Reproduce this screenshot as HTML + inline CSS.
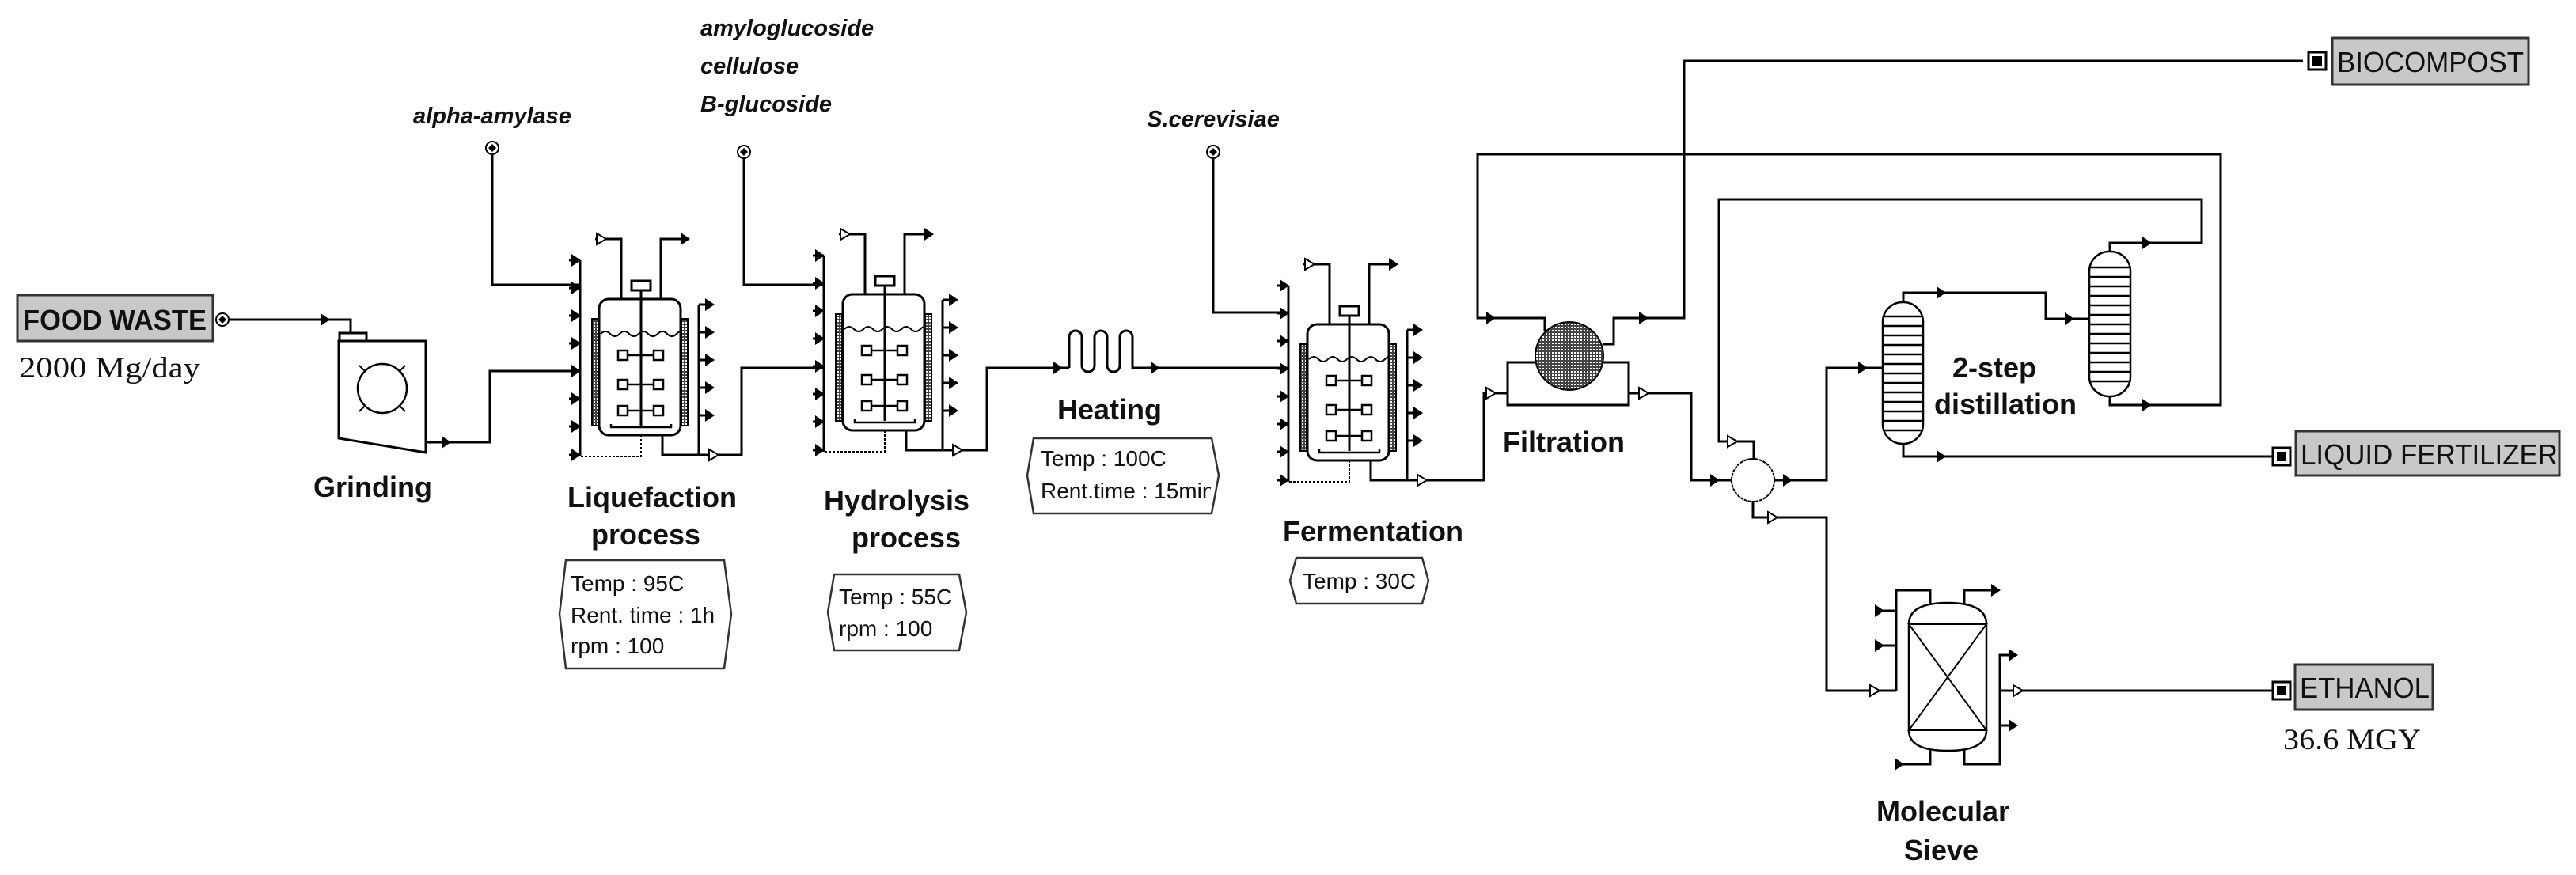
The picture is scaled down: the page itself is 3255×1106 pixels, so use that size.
<!DOCTYPE html>
<html><head><meta charset="utf-8"><style>
html,body{margin:0;padding:0;background:#fff;}
svg{display:block;}
.lb{font-family:"Liberation Sans",sans-serif;font-weight:bold;font-size:36px;fill:#111;}
.it{font-family:"Liberation Sans",sans-serif;font-weight:bold;font-style:italic;font-size:29px;fill:#111;}
.bx{font-family:"Liberation Sans",sans-serif;font-size:28px;fill:#111;}
.sf{font-family:"Liberation Serif",serif;font-size:37px;fill:#111;}
.tag{font-family:"Liberation Sans",sans-serif;font-size:36px;fill:#111;}
</style></head><body>
<svg width="3255" height="1106" viewBox="0 0 3255 1106" xmlns="http://www.w3.org/2000/svg">
<defs>
<g id="a"><polygon points="-9,-8 3,0 -9,8" fill="#000"/></g>
<g id="o"><polygon points="-9,-7 3,0 -9,7" fill="#fff" stroke="#000" stroke-width="2"/></g>
<g id="ci"><circle r="8" fill="#fff" stroke="#000" stroke-width="2"/><polygon points="0,-5 5,0 0,5 -5,0" fill="#000"/></g>
<g id="sq"><rect x="-11" y="-11" width="22" height="22" fill="#fff" stroke="#000" stroke-width="3"/><rect x="-6" y="-6" width="12" height="12" fill="#000"/></g>
<pattern id="hat" width="4" height="4" patternUnits="userSpaceOnUse"><rect width="4" height="4" fill="#444"/><rect x="1" y="1" width="2" height="2" fill="#fff"/></pattern>
<clipPath id="c1"><rect x="712" y="708" width="204" height="137"/></clipPath>
<clipPath id="c2"><rect x="1050" y="726" width="160" height="96"/></clipPath>
<clipPath id="c3"><rect x="1302" y="554" width="228" height="95"/></clipPath>
<clipPath id="c4"><rect x="1634" y="705" width="160" height="58"/></clipPath>
<g id="rx" fill="none" stroke="#000" stroke-width="3">
 <rect x="-9" y="25" width="8" height="135" fill="url(#hat)" stroke-width="2"/>
 <rect x="104" y="25" width="8" height="135" fill="url(#hat)" stroke-width="2"/>
 <rect x="0" y="0" width="103" height="172" rx="12" fill="#fff"/>
 <path d="M2 44 q6-6 12 0 t12 0 t12 0 t12 0 t12 0 t12 0 t12 0 t12 0 t6 0" stroke-width="2"/>
 <rect x="41" y="-23" width="24" height="12" stroke-width="3"/>
 <line x1="53" y1="-11" x2="53" y2="160"/>
 <g stroke-width="2.5"><rect x="24" y="65" width="12" height="12"/><rect x="69" y="65" width="12" height="12"/><line x1="36" y1="71" x2="69" y2="71"/>
 <rect x="24" y="102" width="12" height="12"/><rect x="69" y="102" width="12" height="12"/><line x1="36" y1="108" x2="69" y2="108"/>
 <rect x="24" y="135" width="12" height="12"/><rect x="69" y="135" width="12" height="12"/><line x1="36" y1="141" x2="69" y2="141"/></g>
 <path d="M15 158 v4 h76 v-4" stroke-width="2.5"/>
 <path d="M53 172 V199 H-24" stroke-dasharray="3,2" stroke-width="2"/>
 <line x1="-24" y1="-49" x2="-24" y2="199"/>
 <path d="M-38 -49 H-24 M-38 -14 H-24 M-38 21 H-24 M-38 56 H-24 M-38 91 H-24 M-38 126 H-24 M-38 161 H-24 M-38 197 H-24"/>
 <line x1="126" y1="7" x2="126" y2="197"/>
 <path d="M126 7 H143 M126 42 H143 M126 77 H143 M126 112 H143 M126 147 H143"/>
 <path d="M80 172 V197 H150"/>
 <path d="M28 0 V-76 H-5"/>
 <path d="M78 0 V-76 H112"/>
</g>
<g id="rxa">
 <use href="#rx"/>
 <use href="#a" x="-26" y="-49"/><use href="#a" x="-26" y="-14"/><use href="#a" x="-26" y="21"/><use href="#a" x="-26" y="56"/><use href="#a" x="-26" y="91"/><use href="#a" x="-26" y="126"/><use href="#a" x="-26" y="161"/><use href="#a" x="-26" y="197"/>
 <use href="#a" x="143" y="7"/><use href="#a" x="143" y="42"/><use href="#a" x="143" y="77"/><use href="#a" x="143" y="112"/><use href="#a" x="143" y="147"/>
 <use href="#o" x="148" y="197"/>
 <use href="#o" x="6" y="-76"/><use href="#a" x="112" y="-76"/>
</g>
</defs>

<g fill="none" stroke="#000" stroke-width="3">
<path d="M289 404 H443 V421"/>
<rect x="429" y="421" width="34" height="10" fill="#fff"/>
<path d="M428 431 H538 V572 L428 554 Z" fill="#fff"/>
<circle cx="483" cy="491" r="31" stroke-width="2.5"/>
<path d="M454 462 l8 8 M512 462 l-8 8 M454 520 l8-8 M512 520 l-8-8" stroke-width="2"/>
<path d="M538 559 H619 V469 H733"/>
<path d="M622 195 V360 H733"/>
<path d="M940 200 V360 H1041"/>
<path d="M905 575 H937 V465 H1041"/>
<path d="M1149 569 H1247 V465 H1351"/>
<path d="M1351 465 V426 a8 8 0 0 1 16 0 V462 a8 8 0 0 0 16 0 V426 a8 8 0 0 1 16 0 V462 a8 8 0 0 0 16 0 V426 a8 8 0 0 1 16 0 V465 H1628"/>
<path d="M1533 200 V395 H1628"/>
<path d="M1797 607 H1875 V497 H1905"/>
<rect x="1905" y="458" width="153" height="54" fill="#fff"/>
<circle cx="1983" cy="450" r="43" fill="url(#hat)" stroke-width="2"/>
<path d="M1867 194 V402 H1952 V418"/>
<path d="M2026 435 H2039 V402 H2128 V77 H2910"/>
<path d="M2058 497 H2137 V607 H2188"/>
<path d="M2666 501 V512 H2806 V195 H1867"/>
<path d="M2666 318 V307 H2782 V252 H2172 V558 H2216 V580"/>
<circle cx="2215" cy="607" r="27" fill="#fff" stroke-width="2" stroke-dasharray="4,1"/>
<path d="M2242 607 H2308 V465 H2379"/>
<path d="M2215 634 V654 H2308 V873 H2396"/>
<rect x="2379" y="382" width="51" height="179" rx="25" fill="#fff" stroke-width="2.5"/>
<path d="M2405 382 V370 H2585 V403 H2640"/>
<path d="M2405 561 V577 H2872"/>
<rect x="2640" y="318" width="52" height="183" rx="25" fill="#fff" stroke-width="2.5"/>
<!-- sieve -->
<path d="M2396 873 V746 H2439 V764"/>
<path d="M2376 772 H2396 M2376 816 H2396"/>
<path d="M2482 764 V746 H2525"/>
<path d="M2412 789 Q2412 762 2461 762 Q2510 762 2510 789 V923 Q2510 949 2461 949 Q2412 949 2412 923 Z" fill="#fff" stroke-width="2.5"/>
<path d="M2412 789 H2510 L2412 923 H2510 Z" stroke-width="2"/>
<path d="M2439 947 V966 H2400"/>
<path d="M2482 947 V966 H2527 V828 H2545 M2527 917 H2545 M2527 873 H2872"/>
</g>
<g stroke="#000" stroke-width="2.5">
<path d="M2380 400 H2430 M2380 412 H2430 M2380 424 H2430 M2380 436 H2430 M2380 448 H2430 M2380 460 H2430 M2380 472 H2430 M2380 484 H2430 M2380 496 H2430 M2380 508 H2430 M2380 520 H2430 M2380 532 H2430 M2380 544 H2430"/>
<path d="M2641 338 H2691 M2641 350 H2691 M2641 362 H2691 M2641 374 H2691 M2641 386 H2691 M2641 398 H2691 M2641 410 H2691 M2641 422 H2691 M2641 434 H2691 M2641 446 H2691 M2641 458 H2691 M2641 470 H2691 M2641 482 H2691"/>
</g>

<use href="#rxa" x="757" y="378"/>
<use href="#rxa" x="1065" y="372"/>
<use href="#rxa" x="1652" y="410"/>

<use href="#ci" x="281" y="404"/>
<use href="#ci" x="622" y="187"/>
<use href="#ci" x="940" y="192"/>
<use href="#ci" x="1533" y="192"/>
<use href="#a" x="414" y="404"/>
<use href="#a" x="567" y="559"/>
<use href="#a" x="1340" y="465"/>
<use href="#a" x="1463" y="465"/>
<use href="#a" x="1887" y="402"/>
<use href="#a" x="2080" y="402"/>
<use href="#o" x="1887" y="497"/>
<use href="#o" x="2080" y="497"/>
<use href="#a" x="2170" y="607"/>
<use href="#a" x="2262" y="607"/>
<use href="#o" x="2192" y="558"/>
<use href="#o" x="2243" y="654"/>
<use href="#a" x="2357" y="465"/>
<use href="#a" x="2456" y="370"/>
<use href="#a" x="2618" y="403"/>
<use href="#a" x="2716" y="307"/>
<use href="#a" x="2716" y="512"/>
<use href="#a" x="2456" y="577"/>
<use href="#o" x="2372" y="873"/>
<use href="#a" x="2378" y="772"/>
<use href="#a" x="2378" y="816"/>
<use href="#a" x="2525" y="746"/>
<use href="#a" x="2403" y="966"/>
<use href="#a" x="2547" y="828"/>
<use href="#a" x="2547" y="917"/>
<use href="#o" x="2553" y="873"/>
<use href="#sq" x="2928" y="77"/>
<use href="#sq" x="2883" y="577"/>
<use href="#sq" x="2883" y="873"/>

<g fill="#fff" stroke="#333" stroke-width="2.5">
<path d="M715 708 H915 L924 776 L915 845 H715 L707 776 Z"/>
<path d="M1054 726 H1212 L1221 774 L1212 822 H1054 L1046 774 Z"/>
<path d="M1306 554 H1531 L1540 601 L1531 649 H1306 L1298 601 Z"/>
<path d="M1638 705 H1797 L1805 734 L1797 763 H1638 L1630 734 Z"/>
</g>

<rect x="22" y="373" width="247" height="58" fill="#c8c8c8" stroke="#333" stroke-width="3"/>
<text x="29" y="417" class="tag" font-weight="bold" textLength="232" lengthAdjust="spacingAndGlyphs">FOOD WASTE</text>
<rect x="2947" y="48" width="248" height="59" fill="#c8c8c8" stroke="#333" stroke-width="3"/>
<text x="2953" y="91" class="tag" textLength="236" lengthAdjust="spacingAndGlyphs">BIOCOMPOST</text>
<rect x="2901" y="545" width="333" height="56" fill="#c8c8c8" stroke="#333" stroke-width="3"/>
<text x="2907" y="587" class="tag" textLength="325" lengthAdjust="spacingAndGlyphs">LIQUID FERTILIZER</text>
<rect x="2900" y="840" width="174" height="57" fill="#c8c8c8" stroke="#333" stroke-width="3"/>
<text x="2906" y="882" class="tag" textLength="164" lengthAdjust="spacingAndGlyphs">ETHANOL</text>

<text x="24" y="477" class="sf" textLength="229" lengthAdjust="spacingAndGlyphs">2000 Mg/day</text>
<text x="2885" y="947" class="sf" textLength="174" lengthAdjust="spacingAndGlyphs">36.6 MGY</text>

<text x="622" y="156" class="it" text-anchor="middle">alpha-amylase</text>
<text x="885" y="45" class="it">amyloglucoside</text>
<text x="885" y="93" class="it">cellulose</text>
<text x="885" y="141" class="it">B-glucoside</text>
<text x="1533" y="160" class="it" text-anchor="middle">S.cerevisiae</text>

<text x="471" y="628" class="lb" text-anchor="middle">Grinding</text>
<text x="824" y="641" class="lb" text-anchor="middle">Liquefaction</text>
<text x="816" y="688" class="lb" text-anchor="middle">process</text>
<text x="1133" y="645" class="lb" text-anchor="middle">Hydrolysis</text>
<text x="1145" y="692" class="lb" text-anchor="middle">process</text>
<text x="1402" y="530" class="lb" text-anchor="middle">Heating</text>
<text x="1735" y="684" class="lb" text-anchor="middle">Fermentation</text>
<text x="1976" y="571" class="lb" text-anchor="middle">Filtration</text>
<text x="2520" y="477" class="lb" text-anchor="middle">2-step</text>
<text x="2534" y="523" class="lb" text-anchor="middle">distillation</text>
<text x="2455" y="1038" class="lb" text-anchor="middle">Molecular</text>
<text x="2453" y="1087" class="lb" text-anchor="middle">Sieve</text>

<g clip-path="url(#c1)">
<text x="721" y="747" class="bx">Temp : 95C</text>
<text x="721" y="787" class="bx">Rent. time : 1h</text>
<text x="721" y="826" class="bx">rpm : 100</text>
</g>
<g clip-path="url(#c2)">
<text x="1060" y="764" class="bx">Temp : 55C</text>
<text x="1060" y="804" class="bx">rpm : 100</text>
</g>
<g clip-path="url(#c3)">
<text x="1315" y="589" class="bx">Temp : 100C</text>
<text x="1315" y="630" class="bx">Rent.time : 15min</text>
</g>
<g clip-path="url(#c4)">
<text x="1646" y="744" class="bx">Temp : 30C</text>
</g>
</svg>
</body></html>
